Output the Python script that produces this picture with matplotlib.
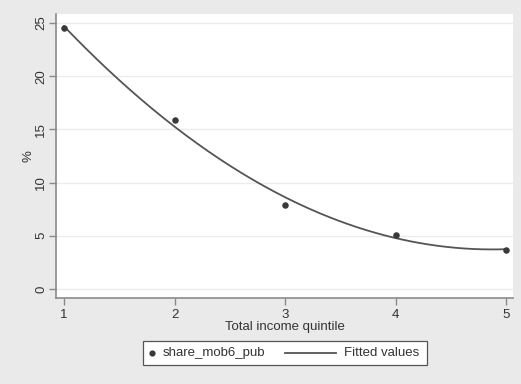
import numpy as np
import matplotlib
matplotlib.use("Agg")
import matplotlib.pyplot as plt
from matplotlib.lines import Line2D
from matplotlib.patches import Rectangle

plt.rcParams['font.family'] = ['Liberation Sans', 'DejaVu Sans']

# Share by total income quintile
quintile = [1, 2, 3, 4, 5]
share = [24.5, 15.9, 7.9, 5.1, 3.7]
y_ticks = [0, 5, 10, 15, 20, 25]
x_ticks = [1, 2, 3, 4, 5]
series_labels = ['share_mob6_pub', 'Fitted values']

# Quadratic fit (as Stata's qfit)
coef = np.polyfit(quintile, share, 2)
xs = np.linspace(min(quintile), max(quintile), 200)
ys = np.polyval(coef, xs)

W, H = 521, 384
FS = 9.5
DOT = '#3a3a3a'
FIT = '#555555'
TXT = '#333333'

fig = plt.figure(figsize=(W / 100, H / 100), dpi=100, facecolor='#eaeaea')
ax = fig.add_axes([56 / W, 1 - 298 / H, (513 - 56) / W, (298 - 14) / H])
ax.set_facecolor('white')

ax.plot(xs, ys, color=FIT, lw=1.3, zorder=3)
ax.scatter(quintile, share, s=22, color=DOT, zorder=4, linewidths=0)

ax.set_xlim(0.928, 5.06)
ax.set_ylim(-0.85, 25.85)
ax.set_xticks(x_ticks)
ax.set_yticks(y_ticks)
ax.set_yticklabels([str(t) for t in y_ticks], rotation=90, va='center')
ax.grid(axis='y', color='#ececec', lw=1.0)
ax.set_axisbelow(True)

for s in ['top', 'right']:
    ax.spines[s].set_visible(False)
for s in ['left', 'bottom']:
    ax.spines[s].set_color('#8a8a8a')
    ax.spines[s].set_linewidth(1.2)
ax.tick_params(colors='#8a8a8a', labelcolor=TXT, length=5, width=1,
               labelsize=FS, direction='out')
ax.tick_params(axis='y', pad=1.2)
ax.tick_params(axis='x', pad=3)

ax.set_xlabel('Total income quintile', fontsize=FS, color=TXT, labelpad=0)
ax.set_ylabel('%', fontsize=FS, color=TXT, labelpad=1)


# Legend box drawn in figure pixel coordinates
def fx(px):
    return px / W


def fy(py):
    return 1 - py / H


box_l, box_r, box_t, box_b = 143, 427, 341, 365
cy = fy((box_t + box_b) / 2)
fig.add_artist(Rectangle((fx(box_l), fy(box_b)), fx(box_r) - fx(box_l),
                         fy(box_t) - fy(box_b), transform=fig.transFigure,
                         facecolor='white', edgecolor='#555555', lw=0.9))
fig.add_artist(Line2D([fx(152)], [cy], marker='o', ls='none', color=DOT,
                      markersize=4.5, markeredgewidth=0,
                      transform=fig.transFigure))
fig.text(fx(163), cy, series_labels[0], fontsize=FS, color=TXT,
         va='center', ha='left')
fig.add_artist(Line2D([fx(285), fx(336)], [cy, cy], color=FIT, lw=1.3,
                      transform=fig.transFigure))
fig.text(fx(344), cy, series_labels[1], fontsize=FS, color=TXT,
         va='center', ha='left')

fig.savefig('out.png', dpi=100, facecolor=fig.get_facecolor())
